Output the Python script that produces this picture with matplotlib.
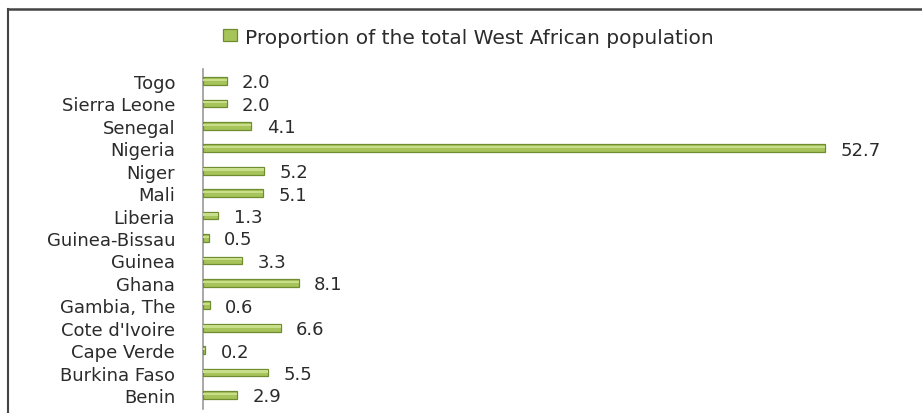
import matplotlib
matplotlib.use("Agg")
import matplotlib.pyplot as plt
from matplotlib.lines import Line2D

plt.rcParams["font.family"] = ["DejaVu Sans"]

countries = ["Benin", "Burkina Faso", "Cape Verde", "Cote d'Ivoire", "Gambia, The",
             "Ghana", "Guinea", "Guinea-Bissau", "Liberia", "Mali", "Niger",
             "Nigeria", "Senegal", "Sierra Leone", "Togo"]
shares = [2.9, 5.5, 0.2, 6.6, 0.6, 8.1, 3.3, 0.5, 1.3, 5.1, 5.2, 52.7, 4.1, 2.0, 2.0]
series_name = "Proportion of the total West African population"

W, H = 922, 414
fig = plt.figure(figsize=(W / 100, H / 100), dpi=100)
fig.patch.set_facecolor("white")

# axes placed in pixel terms
x0, x1 = 203, 900
y_top, y_bot = 70, 410
ax = fig.add_axes([x0 / W, 1 - y_bot / H, (x1 - x0) / W, (y_bot - y_top) / H])

px_per_unit = (825 - 203) / 52.7
ax.set_xlim(0, (x1 - x0) / px_per_unit)
step = (396 - 82) / 14
ax.set_ylim(-(y_bot - 396) / step, 14 + (82 - y_top) / step)

pos = list(range(len(countries)))
bars = ax.barh(pos, shares, height=0.34, color="#a6c45a", edgecolor="#6f8d2f",
               linewidth=0.9, label=series_name, zorder=3)
# soft highlight along the top of each bar for a rounded look
ax.barh([p + 0.05 for p in pos], shares, height=0.1, color="#c9de8a",
        linewidth=0, zorder=4)

for p, v in zip(pos, shares):
    ax.annotate(f"{v:.1f}", xy=(v, p), xytext=(11, -1), textcoords="offset points",
                va="center", ha="left", fontsize=13, color="#2b2b2b")

ax.set_yticks(pos)
ax.set_yticklabels(countries, fontsize=13, color="#2b2b2b")
ax.tick_params(axis="y", length=0, pad=20)
ax.set_xticks([])
for side in ["top", "right", "bottom"]:
    ax.spines[side].set_visible(False)
ax.spines["left"].set_color("#9a9a9a")
ax.spines["left"].set_linewidth(1.2)
ax.set_facecolor("none")

fig.legend(handles=[bars], labels=[series_name], loc="center left",
           bbox_to_anchor=(205 / W, 1 - 38 / H), frameon=False, fontsize=14.5,
           handlelength=0.7, handleheight=0.55, handletextpad=0.4,
           labelcolor="#2b2b2b")

# outer frame: top and left rules
fig.add_artist(Line2D([7.5 / W, 1], [1 - 9.5 / H, 1 - 9.5 / H], color="#444444",
                      linewidth=1.8, transform=fig.transFigure))
fig.add_artist(Line2D([7.5 / W, 7.5 / W], [0, 1 - 9.5 / H], color="#444444",
                      linewidth=1.5, transform=fig.transFigure))

fig.savefig("out.png", dpi=100)
